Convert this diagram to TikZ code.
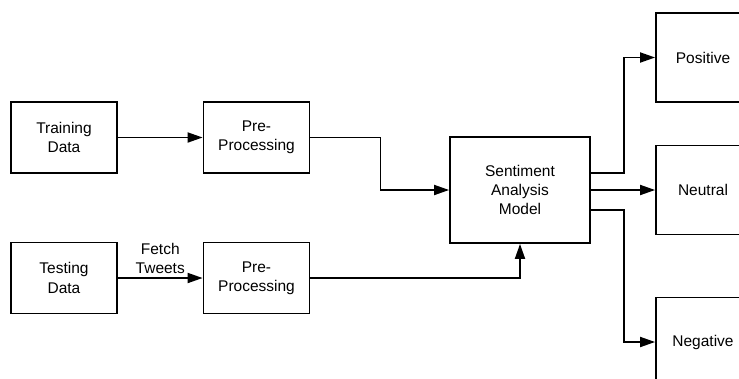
\documentclass[tikz,border=0pt]{standalone}
\usepackage{fontspec}
\setmainfont{Liberation Sans}
\usetikzlibrary{positioning,calc,arrows.meta}

\begin{document}
\begin{tikzpicture}[x=1pt, y=-1pt, line cap=butt]
  % styles
  \tikzset{
    box/.style={draw, line width=1.8pt, align=center, minimum width=106pt, minimum height=71pt,
      font=\fontsize{15.5}{19.3}\selectfont},
    bigbox/.style={box, minimum width=140pt, minimum height=106pt},
    outbox/.style={box, minimum width=94pt, minimum height=89pt},
    flow/.style={line width=1.8pt, -{Triangle[length=15pt,width=10pt]}}
  }
  % frame
  \useasboundingbox (0,0) rectangle (739,378);
  \clip (0,0) rectangle (739,378);
  % inputs
  \node[box] (train) at (64,137.5) {Training\\Data};
  \node[box] (prep1) at (256.5,137.5) {Pre-\\Processing};
  \node[box] (test) at (64,278) {Testing\\Data};
  \node[box] (prep2) at (256.5,278) {Pre-\\Processing};
  % model
  \node[bigbox] (model) at (520,190) {Sentiment\\Analysis\\Model};
  % outputs
  \node[outbox] (pos) at (703,57.5) {Positive};
  \node[outbox] (neu) at (703,190) {Neutral};
  \node[outbox] (neg) at (703,342) {Negative};
  % connectors
  \draw[flow] (train) -- (prep1);
  \draw[flow] (test) -- node[above, align=center, font=\fontsize{15.5}{19.3}\selectfont] (fetch) {Fetch\\Tweets} (prep2);
  \draw[flow] (prep1.east) -- ++(70,0) |- (model.west);
  \draw[flow] (prep2.east) -| (model.south);
  \draw[flow] ([yshift=17pt]model.east) -- ++(33,0) |- (pos.west);
  \draw[flow] (model.east) -- (neu.west);
  \draw[flow] ([yshift=-20pt]model.east) -- ++(33,0) |- (neg.west);
\end{tikzpicture}
\end{document}
